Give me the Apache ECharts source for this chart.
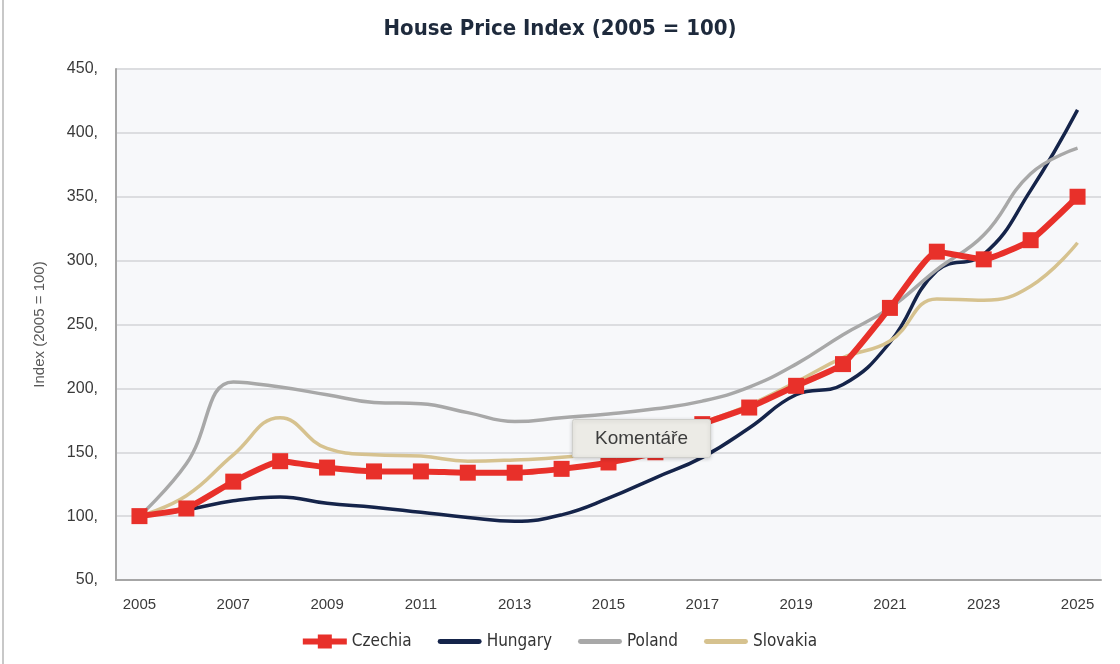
<!DOCTYPE html>
<html>
<head>
<meta charset="utf-8">
<script src="https://cdn.jsdelivr.net/npm/echarts@6/dist/echarts.min.js"></script>
<style>
  html, body { margin: 0; padding: 0; background: #fff; }
  #chart { width: 1120px; height: 664px; }
</style>
</head>
<body>
<div id="chart"></div>
<script>
// Categories (years)
const years = ['2005', '2006', '2007', '2008', '2009', '2010', '2011', '2012', '2013', '2014', '2015',
  '2016', '2017', '2018', '2019', '2020', '2021', '2022', '2023', '2024', '2025'];

// Index values (2005 = 100)
const czechia = [100, 106, 127, 143, 138, 135, 135, 134, 134, 137, 142, 150, 172, 185, 202, 219, 263, 307, 301, 316, 350];
const hungary = [100, 105, 112, 115, 110, 107, 103, 99, 96, 101, 114, 130, 146, 169, 195, 203, 236, 292, 305, 355, 418];
const poland = [100, 141, 205, 201, 195, 189, 188, 181, 174, 177, 180, 184, 190, 201, 219, 242, 263, 293, 320, 368, 388];
const slovakia = [100, 116, 148, 177, 153, 148, 147, 143, 144, 146, 151, 158, 173, 187, 205, 224, 237, 270, 269, 280, 314];

const yTicks = { min: 50, max: 450, step: 50 };

const NARROW = "'DejaVu Sans Condensed', 'Liberation Sans', sans-serif";
const PLAIN = "'Liberation Sans', 'DejaVu Sans', sans-serif";

// legend glyphs: plain thick line, and line with a square marker
const LINE_ICON = 'path://M2,0 H42 A2.5,2.5 0 0 1 42,5 H2 A2.5,2.5 0 0 1 2,0 Z';
const SQUARE_ICON = 'path://M0,4 H15 V0 H29 V4 H44 V10 H29 V14 H15 V10 H0 Z';

const chart = echarts.init(document.getElementById('chart'));

const makeLine = (name, data, color, width, smooth) => ({
  name,
  type: 'line',
  data,
  smooth,
  symbol: 'none',
  lineStyle: { color, width },
  itemStyle: { color },
});

const series = [
  {
    name: 'Czechia',
    type: 'line',
    data: czechia,
    smooth: 0.15,
    symbol: 'rect',
    symbolSize: 16,
    lineStyle: { color: '#e8302a', width: 6 },
    itemStyle: { color: '#e8302a' },
    z: 5,
  },
  makeLine('Hungary', hungary, '#15244a', 3.5, 0.45),
  makeLine('Poland', poland, '#a8a8a8', 3.5, 0.45),
  makeLine('Slovakia', slovakia, '#d6c28f', 3.5, 0.45),
];

chart.setOption({
  backgroundColor: '#ffffff',
  animation: false,
  title: {
    text: 'House Price Index (2005 = 100)',
    left: 'center',
    top: 13,
    textStyle: {
      fontFamily: NARROW,
      fontSize: 22,
      fontWeight: 'bold',
      color: '#1e2a3c',
    },
  },
  legend: {
    bottom: 9,
    left: 'center',
    itemWidth: 44,
    itemHeight: 14,
    itemGap: 26,
    textStyle: { fontFamily: NARROW, fontSize: 17, color: '#333' },
    data: [
      { name: 'Czechia', icon: SQUARE_ICON },
      { name: 'Hungary', icon: LINE_ICON },
      { name: 'Poland', icon: LINE_ICON },
      { name: 'Slovakia', icon: LINE_ICON },
    ],
  },
  grid: {
    left: 116,
    right: 19,
    top: 69,
    bottom: 84,
    show: true,
    backgroundColor: '#f7f8fa',
    borderWidth: 0,
    containLabel: false,
  },
  xAxis: {
    type: 'category',
    data: years,
    boundaryGap: true,
    axisLine: { lineStyle: { color: '#a6a6a6', width: 2 } },
    axisTick: { show: false },
    axisLabel: {
      interval: 1,
      margin: 17,
      fontFamily: PLAIN,
      fontSize: 15,
      color: '#3a3a3a',
    },
  },
  yAxis: {
    type: 'value',
    min: yTicks.min,
    max: yTicks.max,
    interval: yTicks.step,
    name: 'Index (2005 = 100)',
    nameLocation: 'middle',
    nameGap: 69,
    nameTextStyle: { fontFamily: PLAIN, fontSize: 15, color: '#595959' },
    axisLine: { show: true, lineStyle: { color: '#a6a6a6', width: 2 } },
    axisTick: { show: false },
    axisLabel: {
      formatter: (v) => v + ',',
      margin: 18,
      fontFamily: PLAIN,
      fontSize: 16,
      color: '#3a3a3a',
    },
    splitLine: { lineStyle: { color: '#dcdde0', width: 2 } },
  },
  graphic: [
    // thin frame line down the left edge
    {
      type: 'line',
      shape: { x1: 3, y1: 0, x2: 3, y2: 664 },
      style: { stroke: '#c8c8c8', lineWidth: 2 },
    },
    // Excel comment hint box
    {
      type: 'group',
      left: 572,
      top: 419,
      zlevel: 2,
      children: [
        {
          type: 'rect',
          zlevel: 2,
          shape: { x: 0, y: 0, width: 138, height: 38, r: 2 },
          style: {
            fill: '#ecebe6',
            stroke: '#cfcfcb',
            lineWidth: 1,
            shadowBlur: 4,
            shadowColor: 'rgba(0,0,0,0.18)',
            shadowOffsetY: 1,
          },
        },
        {
          type: 'text',
          zlevel: 2,
          x: 69,
          y: 19,
          style: {
            text: 'Komentáře',
            align: 'center',
            verticalAlign: 'middle',
            fontFamily: PLAIN,
            fontSize: 19,
            fill: '#3c3c3c',
          },
        },
      ],
    },
  ],
  series,
});
</script>
</body>
</html>
